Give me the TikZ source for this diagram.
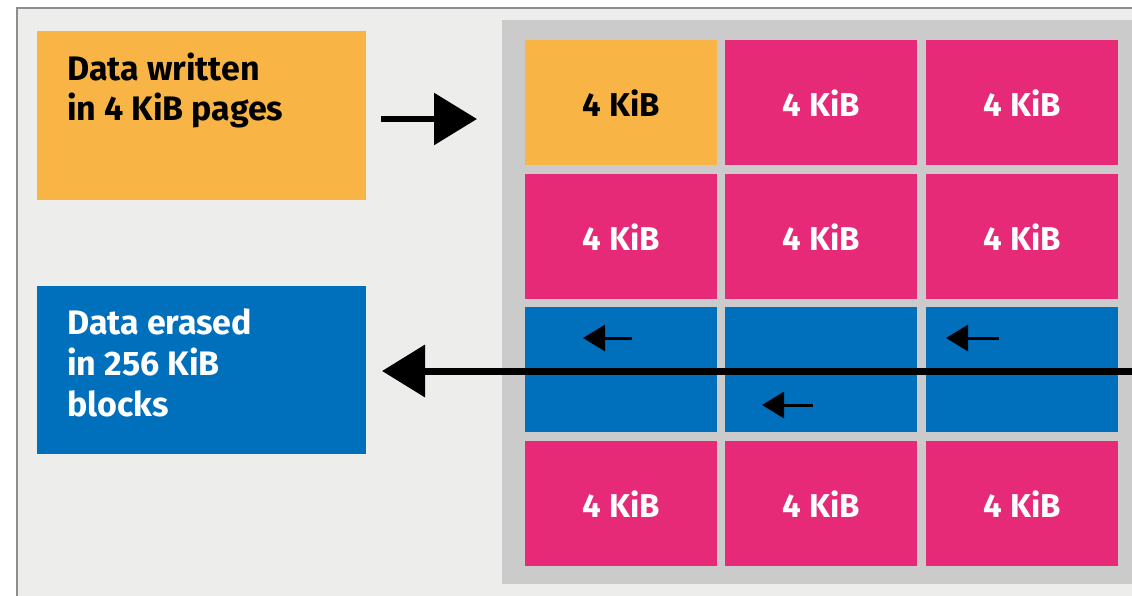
\documentclass[tikz,border=0pt]{standalone}
\usepackage{fontspec}
\setmainfont{Fira Sans}
\usetikzlibrary{arrows.meta}
\definecolor{bgc}{HTML}{EDEDEB}
\definecolor{framec}{HTML}{8E8E8E}
\definecolor{panelc}{HTML}{CBCBCB}
\definecolor{orangec}{HTML}{F8B444}
\definecolor{pinkc}{HTML}{E62A78}
\definecolor{bluec}{HTML}{0070BC}
\tikzset{
  box/.style={draw=none, inner sep=0pt, anchor=north west},
  cell/.style={draw=none, fill=pinkc, inner sep=0pt, anchor=north west,
    minimum width=192pt, minimum height=125pt, text=white,
    font=\fontsize{33}{38}\selectfont\bfseries},
  lbl/.style={inner sep=0pt, anchor=north west, align=left,
    font=\fontsize{34}{40}\selectfont\bfseries},
  bigarrow/.style={line width=7pt, -{Triangle[length=43pt,width=51pt]}},
  midarrow/.style={line width=6pt, -{Triangle[length=43pt,width=51pt]}},
  smallarrow/.style={line width=3pt, -{Triangle[length=22pt,width=26pt]}}
}
\begin{document}
\begin{tikzpicture}[x=1pt,y=-1pt]
\useasboundingbox (0,0) rectangle (1132,596);
\begin{scope}
\clip (0,0) rectangle (1132,596);
\draw[framec, line width=2pt, fill=bgc] (17,8) rectangle (1150,610);
\fill[panelc] (502,20) rectangle (1150,584);
\end{scope}
% left boxes
\node[box, fill=orangec, minimum width=329pt, minimum height=169pt] (written) at (37,31) {};
\node[box, fill=bluec, minimum width=329pt, minimum height=168pt] (erased) at (37,286) {};
\node[lbl, text=black] (writtentxt) at (67,53) {Data written\\in 4 KiB pages};
\node[lbl, text=white, font=\fontsize{34}{41}\selectfont\bfseries] (erasedtxt) at (67,308) {Data erased\\in 256 KiB\\blocks};
% grid
\node[cell, fill=orangec, text=black] (c11) at (525,40) {4 KiB};
\node[cell] (c12) at (725,40) {4 KiB};
\node[cell] (c13) at (926,40) {4 KiB};
\node[cell] (c21) at (525,174) {4 KiB};
\node[cell] (c22) at (725,174) {4 KiB};
\node[cell] (c23) at (926,174) {4 KiB};
\node[cell, fill=bluec] (c31) at (525,307) {};
\node[cell, fill=bluec] (c32) at (725,307) {};
\node[cell, fill=bluec] (c33) at (926,307) {};
\node[cell] (c41) at (525,441) {4 KiB};
\node[cell] (c42) at (725,441) {4 KiB};
\node[cell] (c43) at (926,441) {4 KiB};
% arrows
\coordinate (wstart) at (381,119);
\coordinate (wend) at (477,119);
\draw[midarrow] (wstart) -- (wend);
\coordinate (estart) at (1140,371);
\coordinate (eend) at (382,371);
\draw[bigarrow] (estart) -- (eend);
\coordinate (s1a) at (632,338);
\coordinate (s1b) at (583,338);
\coordinate (s2a) at (813,405);
\coordinate (s2b) at (762,405);
\coordinate (s3a) at (999,338);
\coordinate (s3b) at (946,338);
\draw[smallarrow] (s1a) -- (s1b);
\draw[smallarrow] (s2a) -- (s2b);
\draw[smallarrow] (s3a) -- (s3b);
\end{tikzpicture}
\end{document}
